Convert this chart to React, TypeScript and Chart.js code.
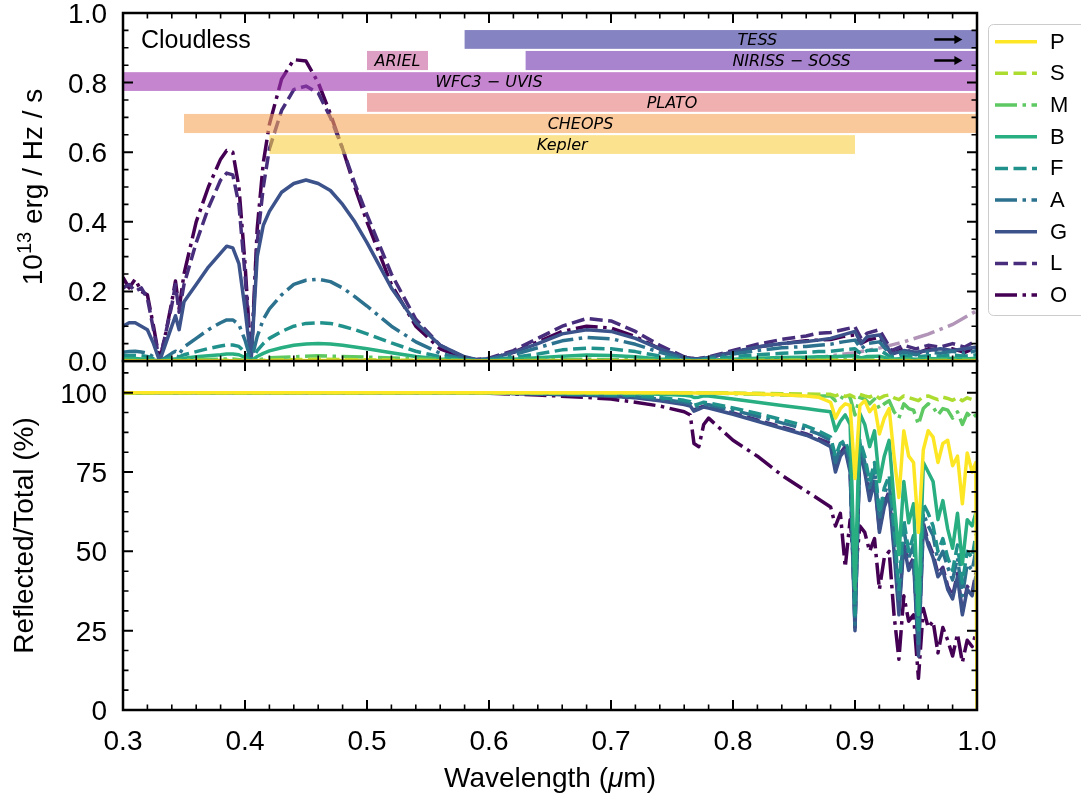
import React, { useEffect, useRef } from "react";
import { Chart, registerables } from "chart.js";

Chart.register(...registerables);

const FONT = "'Liberation Sans', Arial, sans-serif";

// ---------- series meta ----------
const seriesNames = ["P", "S", "M", "B", "F", "A", "G", "L", "O"];
const seriesColors = ["#fde725", "#addc30", "#5ec962", "#28ae80", "#21918c", "#2c728e", "#3b528b", "#472d7b", "#440154"];
const seriesStyles = ["solid", "dashed", "dashdot", "solid", "dashed", "dashdot", "solid", "dashed", "dashdot"];

// ---------- top panel: flux (10^13 erg/Hz/s) ----------
const topWl = [0.30, 0.305, 0.31, 0.315, 0.32, 0.325, 0.33, 0.335, 0.34, 0.343, 0.346, 0.35, 0.36, 0.37, 0.38, 0.385, 0.39, 0.395, 0.40, 0.405, 0.41, 0.415, 0.42, 0.43, 0.44, 0.45, 0.46, 0.47, 0.48, 0.49, 0.50, 0.52, 0.54, 0.56, 0.58, 0.59, 0.60, 0.62, 0.64, 0.66, 0.68, 0.70, 0.72, 0.74, 0.76, 0.77, 0.78, 0.80, 0.82, 0.84, 0.86, 0.87, 0.88, 0.89, 0.90, 0.905, 0.91, 0.92, 0.93, 0.94, 0.95, 0.96, 0.97, 0.98, 0.99, 1.00];
const topWlCoarse = [0.30, 0.33, 0.36, 0.39, 0.405, 0.42, 0.46, 0.50, 0.55, 0.59, 0.64, 0.68, 0.72, 0.77, 0.82, 0.88, 0.94, 1.00];

const fluxP = [0.0002, 0, 0.0004, 0.0006, 0, 0.001, 0.0015, 0.0011, 0.0005, 0, 0.0003, 0.0005, 0.0003, 0, 0.0003, 0.0004, 0.0002, 0.0003];
const fluxS = [0.0006, 0, 0.0012, 0.002, 0, 0.003, 0.005, 0.0035, 0.0015, 0, 0.001, 0.0016, 0.001, 0, 0.001, 0.0012, 0.0007, 0.001];
const fluxM = [0.002, 0, 0.004, 0.006, 0, 0.009, 0.015, 0.011, 0.005, 0, 0.003, 0.005, 0.003, 0, 0.003, 0.004, 0.002, 0.003];
const fluxB = [0.006, 0.007, 0.007, 0.006, 0.006, 0.003, 0, 0.003, 0.005, 0.006, 0.005, 0.008, 0.012, 0.015, 0.018, 0.02, 0.02, 0.018, 0.01, 0, 0.013, 0.022, 0.029, 0.038, 0.045, 0.049, 0.05, 0.049, 0.045, 0.04, 0.035, 0.024, 0.013, 0.006, 0.002, 0.001, 0.0015, 0.005, 0.009, 0.014, 0.017, 0.016, 0.012, 0.006, 0.002, 0.001, 0.002, 0.005, 0.008, 0.01, 0.011, 0.012, 0.012, 0.014, 0.015, 0.009, 0.013, 0.014, 0.005, 0.007, 0.005, 0.007, 0.006, 0.008, 0.006, 0.008];
const fluxF = [0.015, 0.016, 0.016, 0.015, 0.013, 0.007, 0, 0.006, 0.012, 0.015, 0.012, 0.018, 0.027, 0.036, 0.043, 0.046, 0.046, 0.042, 0.025, 0, 0.03, 0.05, 0.065, 0.085, 0.10, 0.108, 0.11, 0.108, 0.10, 0.09, 0.078, 0.052, 0.028, 0.012, 0.004, 0.002, 0.003, 0.01, 0.02, 0.032, 0.037, 0.035, 0.027, 0.014, 0.004, 0.002, 0.005, 0.012, 0.018, 0.022, 0.025, 0.027, 0.028, 0.032, 0.035, 0.02, 0.03, 0.032, 0.01, 0.015, 0.012, 0.015, 0.014, 0.017, 0.014, 0.018];
const fluxA = [0.025, 0.027, 0.028, 0.026, 0.022, 0.012, 0, 0.01, 0.022, 0.028, 0.02, 0.04, 0.065, 0.09, 0.11, 0.118, 0.118, 0.105, 0.06, 0, 0.07, 0.12, 0.15, 0.19, 0.22, 0.232, 0.235, 0.228, 0.21, 0.185, 0.158, 0.10, 0.055, 0.022, 0.006, 0.003, 0.005, 0.018, 0.038, 0.058, 0.068, 0.064, 0.048, 0.025, 0.007, 0.004, 0.008, 0.02, 0.03, 0.038, 0.042, 0.045, 0.048, 0.055, 0.06, 0.035, 0.05, 0.055, 0.015, 0.025, 0.018, 0.025, 0.022, 0.028, 0.022, 0.03];
const fluxG = [0.10, 0.11, 0.11, 0.10, 0.09, 0.05, 0, 0.05, 0.10, 0.13, 0.09, 0.17, 0.22, 0.27, 0.31, 0.33, 0.325, 0.28, 0.15, 0, 0.30, 0.39, 0.43, 0.485, 0.51, 0.52, 0.51, 0.49, 0.45, 0.40, 0.34, 0.21, 0.11, 0.045, 0.012, 0.004, 0.006, 0.025, 0.05, 0.078, 0.09, 0.085, 0.065, 0.035, 0.01, 0.005, 0.01, 0.025, 0.04, 0.05, 0.056, 0.06, 0.065, 0.075, 0.085, 0.05, 0.07, 0.075, 0.02, 0.03, 0.025, 0.03, 0.035, 0.03, 0.035, 0.04];
const fluxL = [0.21, 0.22, 0.20, 0.21, 0.18, 0.09, 0, 0.08, 0.16, 0.22, 0.14, 0.22, 0.34, 0.44, 0.52, 0.54, 0.535, 0.45, 0.25, 0, 0.34, 0.50, 0.61, 0.72, 0.78, 0.79, 0.77, 0.70, 0.61, 0.51, 0.42, 0.25, 0.12, 0.045, 0.01, 0.004, 0.008, 0.03, 0.065, 0.10, 0.122, 0.115, 0.085, 0.045, 0.012, 0.006, 0.012, 0.03, 0.048, 0.062, 0.072, 0.08, 0.082, 0.09, 0.098, 0.065, 0.08, 0.09, 0.03, 0.045, 0.035, 0.045, 0.04, 0.05, 0.04, 0.06];
const fluxO = [0.24, 0.21, 0.235, 0.20, 0.19, 0.10, 0, 0.08, 0.17, 0.23, 0.15, 0.25, 0.40, 0.50, 0.58, 0.605, 0.60, 0.50, 0.28, 0, 0.38, 0.57, 0.68, 0.81, 0.866, 0.862, 0.80, 0.71, 0.61, 0.50, 0.40, 0.22, 0.10, 0.035, 0.008, 0.003, 0.006, 0.025, 0.055, 0.085, 0.10, 0.095, 0.07, 0.035, 0.01, 0.006, 0.01, 0.025, 0.04, 0.05, 0.058, 0.06, 0.062, 0.07, 0.075, 0.05, 0.06, 0.068, 0.02, 0.035, 0.02, 0.035, 0.03, 0.035, 0.025, 0.04];

const thermalWl = [0.86, 0.88, 0.90, 0.92, 0.94, 0.96, 0.98, 1.00];
const thermalO = [0.005, 0.015, 0.024, 0.037, 0.055, 0.077, 0.105, 0.145];

// ---------- bottom panel: reflected / total (%) ----------
const botWl = [0.30, 0.40, 0.50, 0.60, 0.64, 0.68, 0.70, 0.72, 0.74, 0.76, 0.765, 0.768, 0.772, 0.776, 0.78, 0.80, 0.82, 0.84, 0.86, 0.87, 0.88, 0.884, 0.888, 0.892, 0.896, 0.90, 0.904, 0.908, 0.912, 0.916, 0.92, 0.924, 0.928, 0.932, 0.936, 0.94, 0.944, 0.948, 0.952, 0.956, 0.96, 0.964, 0.968, 0.972, 0.976, 0.98, 0.984, 0.988, 0.992, 0.996, 0.999, 1.00];
const ratioP = [100, 100, 100, 100, 100, 100, 100, 100, 100, 99.9, 99.9, 99.9, 99.9, 99.9, 99.9, 99.8, 99.6, 99.4, 99, 98.6, 97, 92, 95, 96.5, 96, 73, 96, 97.5, 94, 96, 87, 92, 95, 80, 67, 88, 80, 78, 56, 82, 88, 86, 78, 84, 85, 77, 80, 65, 81, 75, 78, 0];
const ratioS = [100, 100, 100, 100, 100, 100, 100, 100, 100, 100, 100, 100, 100, 100, 100, 99.9, 99.8, 99.7, 99.6, 99.5, 99.5, 99, 99.6, 98.8, 99.3, 98.5, 99.5, 99, 98.6, 99.4, 98.2, 99, 99.3, 98.4, 97.8, 99, 98.5, 98, 97.5, 98.8, 99, 98.4, 97.8, 98.6, 98.2, 97.6, 98.5, 97.5, 98.4, 97.8, 98, 98];
const ratioM = [100, 100, 100, 100, 100, 100, 100, 100, 100, 99.9, 99.9, 99.9, 99.9, 99.9, 99.9, 99.7, 99.5, 99.3, 99.1, 99, 99, 97.5, 98.8, 97.8, 98.5, 93, 98.5, 98, 96.5, 98, 95, 96.5, 97.5, 94, 92, 96.5, 95, 94.5, 90, 95, 96.5, 95.5, 93, 95, 94.5, 92, 94, 90, 93.5, 92, 93, 93];
const ratioB = [100, 100, 100, 100, 100, 99.9, 99.8, 99.7, 99.5, 99.2, 99, 98.5, 98.6, 99, 99, 98, 97, 96, 95, 94.5, 94, 88, 91, 93, 90, 38, 93.5, 90, 83, 88, 72, 80, 85, 66, 49, 72, 59, 65, 30, 78, 75, 72, 60, 66, 57, 51, 62, 46, 60, 58, 62, 62];
const ratioF = [100, 100, 100, 99.9, 99.8, 99.6, 99.4, 99.1, 98.5, 97.6, 97.2, 96, 96.5, 97, 96.8, 95.2, 93.5, 91.5, 89.5, 88, 86, 80, 84, 85, 80, 30, 85, 80, 72, 78, 62, 70, 74, 58, 38, 60, 50, 55, 24, 65, 62, 58, 50, 54, 48, 44, 52, 40, 50, 48, 55, 55];
const ratioA = [100, 100, 100, 99.9, 99.7, 99.4, 99.2, 98.8, 98, 97, 96.6, 95.3, 95.8, 96.4, 96.2, 94.5, 92.6, 90.5, 88.5, 87, 85, 78, 83, 84, 78, 27, 84, 78, 70, 76, 60, 68, 72, 55, 35, 57, 48, 52, 21, 62, 58, 55, 47, 50, 45, 41, 48, 36, 46, 44, 50, 50];
const ratioG = [100, 100, 100, 99.9, 99.6, 99.2, 98.9, 98.4, 97.5, 96.3, 95.8, 94.2, 94.8, 95.5, 95.2, 93.2, 91, 88.8, 86.6, 85, 83, 75, 80, 82, 75, 25, 82, 75, 66, 72, 56, 64, 68, 50, 30, 52, 44, 47, 17, 58, 52, 48, 42, 44, 38, 35, 42, 30, 38, 36, 42, 42];
const ratioL = [100, 100, 100, 99.9, 99.6, 99.3, 99, 98.5, 97.7, 96.6, 96.1, 94.6, 95.2, 95.8, 95.5, 93.6, 91.4, 89.2, 87, 85.5, 84, 76, 81, 83, 76, 26, 83, 76, 67, 73, 57, 65, 69, 52, 32, 53, 45, 48, 18, 59, 53, 49, 43, 45, 39, 36, 43, 31, 39, 37, 43, 43];
const ratioO = [100, 100, 100, 99.8, 99.3, 98.5, 98, 97, 95.8, 94, 93, 84, 83, 90, 92, 85, 80, 74, 69, 66.5, 64, 58, 62, 45, 60, 42, 58, 56, 50, 54, 38, 48, 50, 30, 16, 36, 28, 30, 10, 32, 26, 28, 18, 26, 22, 17, 24, 15, 22, 20, 24, 24];

// ---------- ticks ----------
const xTicks = [0.3, 0.4, 0.5, 0.6, 0.7, 0.8, 0.9, 1.0];
const topYTicks = [0, 0.2, 0.4, 0.6, 0.8, 1.0];
const botYTicks = [0, 25, 50, 75, 100];

// ---------- instrument bands ----------
const bandNames = ["TESS", "NIRISS \u2212 SOSS", "WFC3 \u2212 UVIS", "ARIEL", "PLATO", "CHEOPS", "Kepler"];
const bandStart = [0.58, 0.63, 0.20, 0.50, 0.50, 0.35, 0.42];
const bandEnd = [1.10, 1.10, 1.00, 0.55, 1.00, 1.10, 0.90];
const bandLow = [0.897, 0.836, 0.776, 0.836, 0.716, 0.655, 0.595];
const bandHigh = [0.951, 0.891, 0.830, 0.891, 0.770, 0.710, 0.649];
const bandLabelAt = [0.82, 0.848, 0.60, 0.525, 0.75, 0.675, 0.66];
const bandArrow = [true, true, false, false, false, false, false];
const bandColors = [
  "rgba(52,48,153,0.6)",
  "rgba(110,50,175,0.6)",
  "rgba(158,53,175,0.6)",
  "rgba(198,97,157,0.6)",
  "rgba(230,123,123,0.6)",
  "rgba(245,165,90,0.6)",
  "rgba(248,207,68,0.6)",
];
const arrowFrom = 0.965;
const arrowTo = 0.988;

const LW = 3.5;
function dashFor(style: string): number[] {
  if (style === "dashed") return [13, 5.5];
  if (style === "dashdot") return [22, 5.5, 3.5, 5.5];
  return [];
}

function pts(xs: number[], ys: number[]) {
  return xs.map((x, i) => ({ x, y: ys[i] }));
}

function minorsOf(majors: number[], n: number, lo: number, hi: number) {
  const step = (majors[1] - majors[0]) / n;
  const out: number[] = [];
  for (let v = majors[0]; v >= lo - 1e-9; v -= step) out.push(v);
  for (let v = majors[0] + step; v <= hi + 1e-9; v += step) out.push(v);
  return out.filter((v) => !majors.some((m) => Math.abs(m - v) < step / 10));
}

const TICK_FONT = `28px ${FONT}`;

const framePlugin = {
  id: "frame",
  afterDraw(chart: any, _args: any, opts: any) {
    const { ctx, chartArea: ca, scales } = chart;
    const xs = scales.x;
    const ys = scales.y;
    ctx.save();
    ctx.strokeStyle = "#000";
    const xt = (vals: number[], len: number, w: number) => {
      ctx.lineWidth = w;
      ctx.beginPath();
      vals.forEach((v) => {
        const p = xs.getPixelForValue(v);
        ctx.moveTo(p, ca.bottom);
        ctx.lineTo(p, ca.bottom - len);
        ctx.moveTo(p, ca.top);
        ctx.lineTo(p, ca.top + len);
      });
      ctx.stroke();
    };
    const yt = (vals: number[], len: number, w: number) => {
      ctx.lineWidth = w;
      ctx.beginPath();
      vals.forEach((v) => {
        const p = ys.getPixelForValue(v);
        ctx.moveTo(ca.left, p);
        ctx.lineTo(ca.left + len, p);
        ctx.moveTo(ca.right, p);
        ctx.lineTo(ca.right - len, p);
      });
      ctx.stroke();
    };
    xt(opts.xMajor, 10, 2);
    xt(opts.xMinor, 5.5, 1.6);
    yt(opts.yMajor, 10, 2);
    yt(opts.yMinor, 5.5, 1.6);
    ctx.lineWidth = 2.5;
    ctx.strokeRect(ca.left, ca.top, ca.right - ca.left, ca.bottom - ca.top);

    // tick labels
    ctx.fillStyle = "#000";
    ctx.font = TICK_FONT;
    ctx.textBaseline = "alphabetic";
    ctx.textAlign = "right";
    opts.yMajor.forEach((v: number) => {
      ctx.fillText(opts.yFmt(v), ca.left - 16, ys.getPixelForValue(v) + 10);
    });
    if (opts.xLabels) {
      ctx.textAlign = "center";
      opts.xMajor.forEach((v: number) => {
        ctx.fillText(v.toFixed(1), xs.getPixelForValue(v), ca.bottom + 40);
      });
    }
    ctx.restore();
  },
};

const bandsPlugin = {
  id: "bands",
  afterDatasetsDraw(chart: any) {
    const { ctx, chartArea: ca, scales } = chart;
    const xs = scales.x;
    const ys = scales.y;
    ctx.save();
    ctx.beginPath();
    ctx.rect(ca.left, ca.top, ca.right - ca.left, ca.bottom - ca.top);
    ctx.clip();
    bandNames.forEach((_n, i) => {
      const x0 = xs.getPixelForValue(bandStart[i]);
      const x1 = xs.getPixelForValue(bandEnd[i]);
      const y0 = ys.getPixelForValue(bandHigh[i]);
      const y1 = ys.getPixelForValue(bandLow[i]);
      ctx.fillStyle = bandColors[i];
      ctx.fillRect(x0, y0, x1 - x0, y1 - y0);
    });
    ctx.fillStyle = "#000";
    ctx.font = "italic 16px 'DejaVu Sans', sans-serif";
    ctx.textAlign = "center";
    ctx.textBaseline = "middle";
    bandNames.forEach((name, i) => {
      const y0 = ys.getPixelForValue(bandHigh[i]);
      const y1 = ys.getPixelForValue(bandLow[i]);
      ctx.fillText(name, xs.getPixelForValue(bandLabelAt[i]), (y0 + y1) / 2 + 1);
      if (bandArrow[i]) {
        const ym = (y0 + y1) / 2;
        const a0 = xs.getPixelForValue(arrowFrom);
        const a1 = xs.getPixelForValue(arrowTo);
        ctx.strokeStyle = "#000";
        ctx.lineWidth = 2.5;
        ctx.beginPath();
        ctx.moveTo(a0, ym);
        ctx.lineTo(a1 - 6, ym);
        ctx.stroke();
        ctx.beginPath();
        ctx.moveTo(a1, ym);
        ctx.lineTo(a1 - 8, ym - 4.5);
        ctx.lineTo(a1 - 8, ym + 4.5);
        ctx.closePath();
        ctx.fill();
      }
    });
    ctx.restore();
  },
  afterDraw(chart: any) {
    const { ctx, chartArea: ca } = chart;
    ctx.save();
    ctx.fillStyle = "#000";
    // Cloudless annotation
    ctx.font = `25px ${FONT}`;
    ctx.textAlign = "left";
    ctx.textBaseline = "alphabetic";
    ctx.fillText("Cloudless", ca.left + 18, ca.top + 35);

    // y title with superscript
    ctx.save();
    ctx.translate(42, (ca.top + ca.bottom) / 2);
    ctx.rotate(-Math.PI / 2);
    const big = `28px ${FONT}`;
    const small = `20px ${FONT}`;
    ctx.font = big;
    const w1 = ctx.measureText("10").width;
    const rest = " erg / Hz / s";
    const w3 = ctx.measureText(rest).width;
    ctx.font = small;
    const w2 = ctx.measureText("13").width;
    let x = -(w1 + w2 + w3) / 2;
    ctx.font = big;
    ctx.fillText("10", x, 0);
    x += w1;
    ctx.font = small;
    ctx.fillText("13", x, -11);
    x += w2;
    ctx.font = big;
    ctx.fillText(rest, x, 0);
    ctx.restore();

    // legend
    const bx = 988.5;
    const by = 24.5;
    const bw = 110;
    const bh = 291;
    const r = 5;
    ctx.beginPath();
    ctx.moveTo(bx + r, by);
    ctx.lineTo(bx + bw, by);
    ctx.lineTo(bx + bw, by + bh);
    ctx.lineTo(bx + r, by + bh);
    ctx.arcTo(bx, by + bh, bx, by + bh - r, r);
    ctx.lineTo(bx, by + r);
    ctx.arcTo(bx, by, bx + r, by, r);
    ctx.closePath();
    ctx.fillStyle = "rgba(255,255,255,0.85)";
    ctx.fill();
    ctx.strokeStyle = "#cccccc";
    ctx.lineWidth = 1;
    ctx.stroke();
    ctx.font = `22px ${FONT}`;
    ctx.textBaseline = "middle";
    ctx.textAlign = "left";
    seriesNames.forEach((name, i) => {
      const yy = 41.7 + i * 31.67;
      ctx.strokeStyle = seriesColors[i];
      ctx.lineWidth = LW;
      ctx.setLineDash(dashFor(seriesStyles[i]));
      ctx.lineCap = "butt";
      ctx.beginPath();
      ctx.moveTo(995, yy);
      ctx.lineTo(1037, yy);
      ctx.stroke();
      ctx.setLineDash([]);
      ctx.fillStyle = "#000";
      ctx.fillText(name, 1050, yy + 1);
    });
    ctx.restore();
  },
};

const bottomTextPlugin = {
  id: "bottomText",
  afterDraw(chart: any) {
    const { ctx, chartArea: ca } = chart;
    ctx.save();
    ctx.fillStyle = "#000";
    ctx.textBaseline = "alphabetic";
    // y title
    ctx.save();
    ctx.translate(33, (ca.top + ca.bottom) / 2);
    ctx.rotate(-Math.PI / 2);
    ctx.font = `28px ${FONT}`;
    ctx.textAlign = "center";
    ctx.fillText("Reflected/Total (%)", 0, 0);
    ctx.restore();
    // x title with italic mu
    const a = "Wavelength (";
    const b = "\u03bc";
    const c = "m)";
    ctx.font = `28px ${FONT}`;
    const wa = ctx.measureText(a).width;
    const wc = ctx.measureText(c).width;
    ctx.font = `italic 28px ${FONT}`;
    const wb = ctx.measureText(b).width;
    let x = (ca.left + ca.right) / 2 - (wa + wb + wc) / 2;
    const y = ca.bottom + 77;
    ctx.textAlign = "left";
    ctx.font = `28px ${FONT}`;
    ctx.fillText(a, x, y);
    x += wa;
    ctx.font = `italic 28px ${FONT}`;
    ctx.fillText(b, x, y);
    x += wb;
    ctx.font = `28px ${FONT}`;
    ctx.fillText(c, x, y);
    ctx.restore();
  },
};

function makeDatasets(xsets: number[][], ysets: number[][]) {
  return seriesNames.map((name, i) => ({
    label: name,
    data: pts(xsets[i], ysets[i]),
    borderColor: seriesColors[i],
    backgroundColor: seriesColors[i],
    borderWidth: LW,
    borderDash: dashFor(seriesStyles[i]),
    borderCapStyle: "butt" as const,
    borderJoinStyle: "round" as const,
    pointRadius: 0,
    tension: 0,
    fill: false,
  }));
}

export default function App() {
  const topRef = useRef<HTMLCanvasElement>(null);
  const botRef = useRef<HTMLCanvasElement>(null);

  useEffect(() => {
    const xMinor = minorsOf(xTicks, 5, 0.3, 1.0);

    const topSets: any[] = makeDatasets(
      [topWlCoarse, topWlCoarse, topWlCoarse, topWl, topWl, topWl, topWl, topWl, topWl],
      [fluxP, fluxS, fluxM, fluxB, fluxF, fluxA, fluxG, fluxL, fluxO]
    );
    topSets.push({
      label: "O thermal",
      data: pts(thermalWl, thermalO),
      borderColor: "rgba(68,1,84,0.42)",
      borderWidth: LW,
      borderDash: dashFor("dashdot"),
      borderCapStyle: "butt",
      pointRadius: 0,
      tension: 0,
      fill: false,
    });

    const top = new Chart(topRef.current as HTMLCanvasElement, {
      type: "line",
      data: { datasets: topSets },
      options: {
        animation: false,
        responsive: false,
        maintainAspectRatio: false,
        layout: { padding: { top: 13, right: 104, bottom: 39, left: 123 } },
        plugins: {
          legend: { display: false },
          tooltip: { enabled: false },
          frame: {
            xMajor: xTicks,
            xMinor,
            yMajor: topYTicks,
            yMinor: minorsOf(topYTicks, 4, 0, 1.0),
            yFmt: (v: number) => v.toFixed(1),
            xLabels: false,
          },
        } as any,
        scales: {
          x: { type: "linear", min: 0.3, max: 1.0, display: false },
          y: { type: "linear", min: 0, max: 1.0, display: false },
        },
      },
      plugins: [bandsPlugin, framePlugin],
    });

    const bot = new Chart(botRef.current as HTMLCanvasElement, {
      type: "line",
      data: {
        datasets: makeDatasets(
          seriesNames.map(() => botWl),
          [ratioP, ratioS, ratioM, ratioB, ratioF, ratioA, ratioG, ratioL, ratioO]
        ),
      },
      options: {
        animation: false,
        responsive: false,
        maintainAspectRatio: false,
        layout: { padding: { top: 21, right: 104, bottom: 91, left: 123 } },
        plugins: {
          legend: { display: false },
          tooltip: { enabled: false },
          frame: {
            xMajor: xTicks,
            xMinor,
            yMajor: botYTicks,
            yMinor: minorsOf(botYTicks, 4, 0, 110),
            yFmt: (v: number) => String(Math.round(v)),
            xLabels: true,
          },
        } as any,
        scales: {
          x: { type: "linear", min: 0.3, max: 1.0, display: false },
          y: { type: "linear", min: 0, max: 110, display: false },
        },
      },
      plugins: [framePlugin, bottomTextPlugin],
    });

    return () => {
      top.destroy();
      bot.destroy();
    };
  }, []);

  return (
    <div style={{ position: "absolute", left: 0, top: 0, width: 1081, height: 801, background: "#fff", overflow: "hidden" }}>
      <canvas
        ref={botRef}
        width={1081}
        height={461}
        style={{ position: "absolute", left: 0, top: 340, width: 1081, height: 461 }}
      />
      <canvas
        ref={topRef}
        width={1081}
        height={400}
        style={{ position: "absolute", left: 0, top: 0, width: 1081, height: 400 }}
      />
    </div>
  );
}
